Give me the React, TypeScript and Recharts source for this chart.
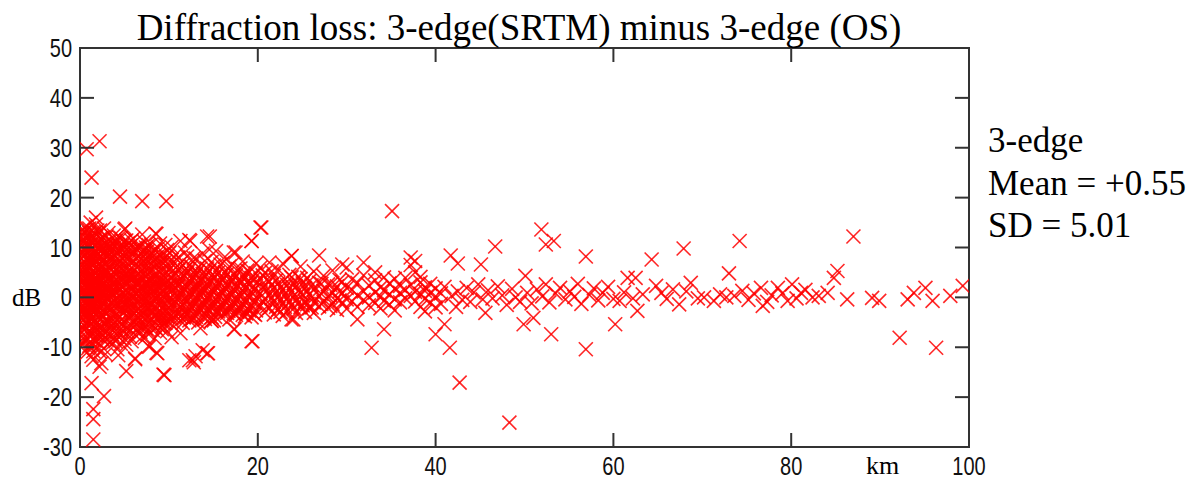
import React from "react";
import { ScatterChart, Scatter, XAxis, YAxis, ReferenceArea } from "recharts";

// Path length (km) paired with the list of loss differences (dB) observed at that distance.
type Column = [number, number[]];

const band0to3: Column[] = [
  [0.3, [13.5, 9.2, 5.1, 1.4, -2.8, -6.3, -9.5, 11.0, 3.2, -4.6]],
  [0.6, [14.2, 10.8, 7.0, 2.6, -1.1, -5.0, -8.4, 12.1, 4.4, -3.0, 0.5]],
  [0.9, [12.6, 8.1, 4.0, 0.2, -3.6, -7.2, -10.2, 6.0, 1.8, -1.5]],
  [1.2, [15.0, 11.4, 6.7, 2.9, -0.8, -4.4, -8.9, 9.6, -2.4, 3.8]],
  [1.5, [13.1, 9.9, 5.5, 1.0, -2.2, -6.0, -10.8, 7.7, -12.5, 0.4]],
  [1.8, [14.6, 10.3, 4.8, 0.9, -3.3, -7.8, 8.2, 2.1, -5.3]],
  [2.1, [12.9, 8.7, 3.5, -0.5, -4.1, -9.1, 6.4, -1.9, 11.2]],
  [2.4, [11.7, 7.3, 2.2, -1.6, -5.7, -13.2, 4.9, 9.5, -8.0]],
  [2.7, [13.8, 9.0, 5.9, 0.7, -2.9, -6.8, -10.3, 3.0]],
  [3.0, [12.2, 7.9, 3.6, -0.2, -4.9, -8.6, 10.4, 1.5, -2.0]],
];

const band0to3b: Column[] = [
  [0.15, [12.0, 7.8, 3.9, -0.4, -4.2, -7.9, 10.1, 5.6, 1.9, -1.9]],
  [0.45, [11.2, 6.3, 2.4, -1.7, -5.6, -9.0, 13.0, 8.6, 0.1, -3.4]],
  [0.75, [13.6, 9.7, 5.3, 1.1, -2.5, -6.1, -11.1, 3.4, -0.9, 7.4]],
  [1.05, [10.5, 7.2, 4.6, -0.3, -4.9, -9.7, 12.9, 1.5, -2.9, 13.8]],
  [1.35, [12.1, 8.2, 3.3, -1.4, -5.2, -7.3, 0.6, 10.7, -9.6]],
  [1.65, [11.6, 6.6, 3.0, -1.0, -4.6, -8.7, 12.9, -2.9, 1.6]],
  [1.95, [13.4, 7.4, 2.5, -2.3, -6.6, 10.0, 0.0, 4.3, -10.1]],
  [2.25, [10.2, 5.6, 1.0, -3.0, -7.0, 13.4, 8.1, -10.9]],
  [2.55, [12.0, 6.1, 1.4, -3.8, -8.5, 3.9, -0.9, 9.7]],
  [2.85, [10.9, 4.7, 0.3, -5.5, 7.0, 2.3, -2.8, -11.4]],
];

const band3to10: Column[] = [
  [3.4, [11.3, 7.6, 4.1, 0.8, -2.6, -6.1, -9.0, 9.4, 2.3, -4.0]],
  [3.8, [12.4, 8.4, 5.2, 1.6, -1.8, -5.4, -8.2, 3.1, -0.6]],
  [4.2, [10.6, 6.8, 3.3, -0.1, -3.7, -7.0, 8.9, 1.9, -10.4]],
  [4.6, [11.9, 7.2, 4.5, 0.6, -2.5, -6.4, 9.7, -9.3]],
  [5.0, [9.8, 6.1, 2.7, -1.2, -4.8, -8.3, 13.6, 0.3]],
  [5.4, [10.9, 7.5, 3.9, 0.1, -3.2, -6.9, 5.3, -1.7]],
  [5.8, [8.8, 5.0, 1.7, -1.9, -5.6, 11.4, 3.4, -8.8]],
  [6.2, [9.9, 6.3, 2.8, -0.7, -4.3, -7.5, 0.9, -12.2]],
  [6.6, [8.3, 4.6, 1.2, -2.3, -5.9, 10.3, 3.0]],
  [7.0, [9.1, 5.6, 2.0, -1.4, -4.7, -7.9, 12.6, -0.3]],
  [7.4, [7.4, 4.0, 0.5, -2.9, -6.2, 10.0, 2.4]],
  [7.8, [8.6, 5.2, 1.9, -1.5, -5.0, -9.9, 3.5]],
  [8.2, [7.0, 3.6, 0.2, -3.1, -6.6, 9.2, 1.3]],
  [8.6, [8.0, 4.8, 1.5, -2.0, -4.4, 12.7, -11.1]],
  [9.0, [6.6, 3.2, -0.4, -3.5, -7.1, 10.8, 1.0]],
  [9.4, [7.8, 4.3, 1.1, -2.4, -5.2, -15.5, 2.7]],
  [9.8, [6.2, 2.9, -0.6, -3.9, 9.5, 0.4, -6.8]],
];

const band3to10b: Column[] = [
  [3.2, [10.1, 6.0, 2.0, -1.5, -4.8, -7.6, 8.4, 12.9]],
  [3.6, [9.9, 6.2, 2.8, -0.9, -4.3, -7.4, 11.0, 0.6]],
  [4.0, [11.3, 8.1, 4.6, 1.0, -2.0, -5.7, -8.8, 2.6]],
  [4.4, [9.2, 5.3, 1.7, -1.6, -4.9, -8.0, 12.0]],
  [4.8, [10.4, 5.4, 1.9, -2.0, -5.4, 7.7, 3.7, -0.3]],
  [5.2, [8.6, 4.8, 1.2, -2.4, -6.1, 11.4, -9.5]],
  [5.6, [9.6, 6.3, 2.4, -0.9, -4.2, -7.9, 4.1]],
  [6.0, [11.8, 7.4, 3.9, 0.2, -3.1, -6.0, 1.4]],
  [6.4, [7.8, 4.4, 0.6, -2.7, -5.2, 9.6]],
  [6.8, [10.0, 6.6, 3.1, -0.3, -3.6, -6.9]],
  [7.2, [8.2, 4.7, 1.3, -2.1, -5.5, 11.2]],
  [7.6, [9.3, 5.9, 2.6, -0.8, -3.9, -7.2]],
  [8.0, [7.8, 4.0, 0.8, -2.6, -5.8, 10.6]],
  [8.4, [9.5, 6.1, 2.7, -0.7, -3.8, -8.2]],
  [8.8, [7.1, 3.8, 0.4, -2.9, -5.7, 9.9]],
  [9.2, [8.6, 5.4, 2.1, -1.2, -4.3, -6.4]],
  [9.6, [7.2, 3.9, 0.7, -2.8, -5.1, 10.5]],
];

// Extra links filling the dense core of short paths.
const coreShort: Column[] = [
  [0.22, [8.8, 4.7, 0.8, -3.1, -6.9, 12.7, 2.9, 6.8]],
  [0.52, [9.9, 5.6, 1.6, -2.2, -6.4, 3.8, -0.6, 11.6]],
  [0.82, [10.4, 6.5, 2.6, -1.3, -5.1, -8.3, 8.9, 0.4]],
  [1.12, [8.1, 4.2, 0.2, -3.6, -7.1, 5.9, 11.8, 2.3]],
  [1.42, [10.8, 6.9, 2.1, -1.9, -4.0, 4.3, -8.4, 8.8]],
  [1.72, [9.0, 5.9, 1.3, -2.1, -6.2, 7.1, -0.4, 3.7]],
  [2.02, [11.0, 5.3, 1.1, -2.8, -5.8, 8.9, 3.0, -7.7]],
  [2.32, [9.3, 6.2, 3.0, -0.4, -4.3, 0.9, -6.3, 11.9]],
  [2.62, [10.6, 7.6, 2.9, -1.4, -5.2, 4.8, -7.6]],
  [2.92, [8.7, 5.2, 1.8, -3.3, -6.7, 9.4, -0.8]],
  [3.3, [8.7, 5.0, 1.4, -2.0, -5.3, 3.6]],
  [3.7, [10.5, 7.0, 3.8, 0.1, -3.0, -6.6]],
  [4.1, [9.2, 5.7, 2.2, -1.2, -4.5, 7.4]],
  [4.5, [10.3, 6.1, 2.9, -0.6, -3.9, -7.1]],
  [4.9, [8.4, 4.4, 0.9, -3.0, -6.7, 11.2]],
  [5.3, [9.6, 6.2, 2.8, -0.8, -4.1, 7.9]],
  [5.7, [7.6, 3.9, 0.4, -3.0, -6.6, 10.4]],
  [6.1, [8.9, 5.4, 2.0, -1.7, -5.0, 4.0]],
  [6.5, [10.0, 6.3, 3.1, -0.5, -4.0, -7.0]],
  [6.9, [7.8, 4.3, 0.9, -2.6, -5.7, 1.9]],
  [7.3, [9.4, 5.9, 2.9, -0.2, -3.5, 6.8]],
  [7.7, [7.2, 3.7, 0.3, -2.2, -6.6, 10.5]],
  [8.1, [8.8, 5.4, 2.0, -1.4, -4.4]],
  [8.5, [6.9, 3.6, 0.0, -3.3, -6.1]],
  [8.9, [8.5, 5.2, 2.1, -1.1, -4.4]],
  [9.3, [6.8, 3.2, 0.1, -3.2, -5.8]],
  [9.7, [8.1, 4.9, 1.8, -1.5, -4.6]],
];

const band10to20: Column[] = [
  [10.3, [7.5, 4.1, 1.4, -1.3, -4.2, 10.1, 2.6, -8.0]],
  [10.8, [6.0, 3.0, 0.3, -2.6, -5.5, 8.6]],
  [11.3, [6.9, 3.8, 1.0, -1.8, -3.9, 11.3, -7.2]],
  [11.8, [5.5, 2.5, -0.2, -2.9, 9.0, 1.6]],
  [12.3, [6.4, 3.4, 0.8, -1.6, -4.6, 11.5, -12.6]],
  [12.8, [5.0, 2.2, -0.5, -3.3, 7.9, -13.0]],
  [13.3, [6.1, 3.1, 0.6, -2.1, -5.0, 1.9]],
  [13.8, [4.7, 1.8, -0.9, -3.6, 8.8, -10.6]],
  [14.3, [5.8, 2.8, 0.1, -2.4, 12.2, -11.2]],
  [14.8, [4.3, 1.5, -1.1, -4.0, 7.1, -4.7]],
  [15.3, [5.3, 2.4, -0.3, -2.7, 9.3]],
  [15.8, [3.9, 1.2, -1.4, -3.8, 6.6]],
  [16.3, [5.0, 2.0, -0.6, -3.0, 8.1]],
  [16.8, [3.6, 0.9, -1.7, -4.4, 6.2]],
  [17.3, [4.6, 1.7, -0.8, -3.2, 9.0, -6.4]],
  [17.8, [3.3, 0.6, -2.0, 5.7]],
  [18.3, [4.2, 1.4, -1.2, -3.5, 7.2]],
  [18.8, [3.0, 0.3, -2.3, 5.4]],
  [19.3, [3.9, 1.1, -1.5, -4.0, 11.3, -8.8]],
  [19.8, [2.7, 0.0, -2.6, 6.8, 4.8]],
];

const band10to20b: Column[] = [
  [10.05, [5.6, 2.2, -0.5, -3.1, 8.9]],
  [10.55, [7.1, 4.3, 1.7, -1.1, -4.0]],
  [11.05, [5.4, 2.2, -0.7, -3.4, 8.0]],
  [11.55, [6.5, 4.1, 1.2, -1.5, -5.1]],
  [12.05, [4.8, 2.0, -0.8, -3.7, 8.2]],
  [12.55, [6.2, 3.7, 0.9, -1.9, -4.4]],
  [13.05, [4.4, 1.6, -1.2, -3.9, 7.8]],
  [13.55, [5.8, 3.3, 0.5, -2.3, -6.2]],
  [14.05, [4.1, 1.3, -1.6, -4.3, 7.3]],
  [14.55, [5.3, 3.0, 0.2, -2.5, 9.6]],
  [15.05, [3.8, 1.0, -1.8, -4.6, 6.4]],
  [15.55, [5.0, 2.6, 0.0, -2.8]],
  [16.05, [3.5, 0.8, -2.0, 6.9]],
  [16.55, [4.7, 2.3, -0.4, -3.1]],
  [17.05, [3.2, 0.5, -2.2, 6.5]],
  [17.55, [4.4, 2.0, -0.6, -3.5]],
  [18.05, [2.9, 0.2, -2.4, 5.8]],
  [18.55, [4.2, 1.8, -0.9, -3.8]],
  [19.05, [2.6, 0.0, -2.7, 5.1]],
  [19.55, [3.7, 1.5, -1.0, -3.3]],
];

const coreMid: Column[] = [
  [10.2, [6.0, 2.9, 0.0, -2.4, -5.2]],
  [10.7, [4.9, 1.9, -0.9, -3.6]],
  [11.2, [5.8, 2.8, 0.1, -2.8]],
  [11.7, [4.4, 1.6, -1.2, -4.0]],
  [12.2, [5.3, 2.6, -0.3, -3.0]],
  [12.7, [4.0, 1.3, -1.6, -4.2]],
  [13.2, [5.0, 2.3, -0.4, -3.4]],
  [13.7, [3.6, 0.9, -1.8]],
  [14.2, [4.6, 1.9, -0.8, -3.6]],
  [14.7, [3.2, 0.5, -2.0]],
  [15.2, [4.1, 1.5, -1.2, -3.9]],
  [15.7, [2.9, 0.3, -2.3]],
  [16.2, [3.9, 1.3, -1.4]],
  [16.7, [2.5, -0.1, -2.7]],
  [17.2, [3.6, 0.9, -1.6]],
  [17.7, [2.3, -0.4, -2.9]],
  [18.2, [3.2, 0.6, -1.8]],
  [18.7, [2.0, -0.6, -3.2]],
  [19.2, [2.9, 0.3, -2.0]],
  [19.7, [1.7, -0.9, -3.5]],
];

const band20to40: Column[] = [
  [20.3, [3.6, 0.8, -1.6, 14.0, 6.0]],
  [20.8, [2.3, -0.4, -3.0, 4.9]],
  [21.3, [3.2, 0.5, -2.1, 7.0]],
  [21.8, [1.9, -0.9, -3.4, 4.3]],
  [22.3, [2.8, 0.2, -2.4, 5.6]],
  [22.8, [1.5, -1.2, -3.7, 6.8]],
  [23.3, [2.5, -0.2, -2.8]],
  [23.8, [1.2, -1.5, 8.3, -4.4, 4.0]],
  [24.3, [2.2, -0.6, -3.1]],
  [24.8, [0.9, -1.9, 3.7, 6.2]],
  [25.3, [1.9, -0.8, -2.9]],
  [25.8, [0.6, -2.2, 3.3]],
  [26.3, [1.6, -1.0, 5.2, -3.1]],
  [26.9, [0.3, -1.8, 8.4, 2.9]],
  [27.4, [1.3, -0.9, 4.3]],
  [27.9, [0.1, -2.1, 2.6]],
  [28.4, [1.0, -1.3, 5.4]],
  [28.9, [-0.2, 2.2, -2.5]],
  [29.5, [0.8, -1.0, 6.6, 3.1]],
  [30.0, [-0.4, 1.9, -2.3, 6.0]],
  [30.6, [1.5, -0.8, 3.6]],
  [31.2, [0.4, -1.9, -4.4, 2.9]],
  [31.9, [1.2, -0.5, 7.0, 4.4]],
  [32.5, [0.0, 2.4, -1.6]],
  [32.8, [-10.1]],
  [33.2, [1.0, -1.1, 3.4, 5.0]],
  [33.8, [0.2, 2.0, -2.2]],
  [34.2, [-6.4, 1.4, -0.7, 4.0]],
  [34.8, [0.6, 2.8, -1.4]],
  [35.1, [17.3]],
  [35.4, [1.7, -0.4, 3.7, -2.6]],
  [36.0, [0.9, 2.3, -1.0]],
  [36.6, [1.5, -0.2, 3.9]],
  [37.2, [6.5, 2.5, 0.3, 8.0]],
  [37.7, [5.0, 1.1, -0.8, 7.3]],
  [38.3, [3.0, 0.7, -1.9, 4.1]],
  [38.8, [2.0, -0.3, 1.3, -2.8]],
  [39.4, [0.9, -1.1, 2.7]],
  [40.0, [0.2, -7.4, 1.8, -2.0]],
];

const band20to30b: Column[] = [
  [20.55, [2.1, -0.7, 4.4]],
  [21.05, [1.4, -1.8, 3.6]],
  [21.55, [2.5, -0.2, 5.2]],
  [22.05, [1.0, -1.9, 3.4]],
  [22.55, [2.0, -0.6, -2.9]],
  [23.05, [0.6, 3.6, -1.9]],
  [23.55, [1.7, -0.9, 4.5]],
  [24.05, [0.3, 2.9, -2.2]],
  [24.55, [1.3, -1.1, 4.1]],
  [25.05, [0.5, 2.8, -1.6]],
  [25.55, [1.1, -1.4, 3.9]],
  [26.05, [0.0, 2.4, -2.0]],
  [27.15, [0.7, -1.3, 2.7]],
  [28.15, [0.4, 2.5, -1.7]],
  [29.2, [1.2, -0.6, 3.5]],
];

// Sparse long paths, one [km, dB] pair per link.
const band40to60: [number, number][] = [
  [40.6, 0.8], [40.6, -1.3], [41.0, -5.4], [41.0, 2.1], [41.6, -10.1], [41.7, 8.4],
  [41.8, 0.3], [42.3, -1.9], [42.5, 6.8], [42.5, 1.2], [42.7, -17.1], [43.0, -0.5],
  [43.5, 1.9], [43.9, -0.9], [44.3, 1.0], [44.8, 2.6], [45.1, 6.6], [45.3, -0.4],
  [45.6, -3.1], [45.9, 1.4], [46.4, -0.2], [46.7, 10.2], [47.0, 2.2], [47.5, 0.4],
  [48.0, -1.5], [48.3, -25.1], [48.6, 1.7], [49.0, 0.0], [49.5, -0.9], [49.9, -5.4],
  [50.1, 4.3], [50.3, 0.9], [50.8, -1.2], [51.0, -4.1], [51.4, 1.6], [51.9, 13.6],
  [52.0, 0.2], [52.4, 10.6], [52.4, 2.6], [52.8, -1.0], [53.0, -7.4], [53.3, 11.3],
  [53.5, 0.8], [54.0, 1.9], [54.6, -0.4], [55.1, 1.2], [55.6, 0.1], [56.0, 2.7],
  [56.4, -1.3], [56.9, 8.2], [56.9, -10.4], [57.3, 0.5], [57.8, 1.8], [58.3, -0.6],
  [58.8, 0.9], [59.4, 2.1], [60.0, -0.3], [60.2, -5.4],
];

const band60to100: [number, number][] = [
  [60.7, -0.7], [61.2, 1.0], [61.6, 3.9], [62.2, -0.2], [62.5, 3.9], [62.7, -2.7],
  [63.3, 0.6], [64.3, 7.6], [64.8, 2.3], [65.4, 0.9], [66.0, -0.3], [66.7, 1.6],
  [67.4, -1.4], [67.9, 9.8], [68.2, 1.2], [68.7, 2.9], [69.5, -0.2], [70.2, 0.0],
  [71.3, -0.7], [72.0, 0.6], [72.7, 0.0], [73.0, 4.8], [73.6, 0.3], [74.2, 11.3],
  [74.5, 1.3], [75.2, -0.5], [75.8, 0.8], [76.6, 1.9], [76.8, -1.7], [77.3, -0.9],
  [77.8, 0.4], [78.5, 1.9], [79.0, 0.8], [79.6, -0.7], [80.1, 2.6], [80.6, -0.2],
  [81.1, 0.9], [81.6, 1.5], [82.4, 0.0], [83.1, 0.3], [84.1, 0.9], [84.8, 3.9],
  [85.2, 5.3], [86.3, -0.4], [87.0, 12.2], [89.1, -0.1], [89.9, -0.7], [92.2, -8.1],
  [93.1, -0.4], [93.8, 0.9], [95.1, 1.9], [95.9, -0.7], [96.3, -10.1], [97.9, 0.3],
  [99.3, 2.3],
];

// Isolated large differences on short paths.
const shortPathOutliers: [number, number][] = [
  [0.75, 29.7], [2.2, 31.3], [1.3, 24.0], [4.5, 20.2], [7.0, 19.3], [9.7, 19.3],
  [1.8, 16.0], [5.1, 13.8], [8.5, 12.8], [12.4, 11.3], [14.6, 12.2], [20.4, 14.0],
  [19.3, 11.3], [17.5, 9.0], [23.8, 8.3],
  [1.5, -28.5], [1.5, -24.4], [1.5, -22.4], [1.3, -17.2], [2.7, -19.8], [2.2, -13.9],
  [1.3, -11.8], [5.2, -14.8], [6.2, -12.4], [4.3, -11.6], [9.5, -15.6], [8.7, -11.2],
  [7.7, -9.8], [12.7, -12.6], [14.4, -11.2], [13.0, -11.8], [19.4, -8.8], [17.4, -6.4],
  [24.0, -4.4], [14.8, -4.7], [3.7, -9.1], [7.3, -8.1],
];

const xTicks = [0, 20, 40, 60, 80, 100];
const yTicks = [-30, -20, -10, 0, 10, 20, 30, 40, 50];

const titleText = "Diffraction loss: 3-edge(SRTM) minus 3-edge (OS)";
const statsLines = ["3-edge", "Mean = +0.55", "SD = 5.01"];

const fromColumns = (cols: Column[]) =>
  cols.flatMap(([km, values]) => values.map((dB) => ({ km, dB })));
const fromPairs = (pairs: [number, number][]) => pairs.map(([km, dB]) => ({ km, dB }));

const points = [
  ...fromColumns(band0to3),
  ...fromColumns(band0to3b),
  ...fromColumns(band3to10),
  ...fromColumns(band3to10b),
  ...fromColumns(coreShort),
  ...fromColumns(band10to20),
  ...fromColumns(band10to20b),
  ...fromColumns(coreMid),
  ...fromColumns(band20to40),
  ...fromColumns(band20to30b),
  ...fromPairs(band40to60),
  ...fromPairs(band60to100),
  ...fromPairs(shortPathOutliers),
];

// Layout
const W = 1190;
const H = 474;
const MARGIN = { top: 40, right: 229, bottom: 0, left: 12 };
const Y_AXIS_W = 60;
const X_AXIS_H = 35;
const PLOT_W = W - MARGIN.left - Y_AXIS_W - MARGIN.right;
const PLOT_H = H - MARGIN.top - X_AXIS_H;
const TICK_LEN = 14;
const FRAME = "#333333";
const RED = "#ff0000";
const TICK_FONT = "'Liberation Sans', Arial, sans-serif";
const SERIF = "'Liberation Serif', 'Times New Roman', serif";

const Cross = (props: any) => {
  const { cx, cy } = props;
  if (cx == null || cy == null) return null;
  const r = 7;
  return (
    <g stroke={RED} strokeWidth={1.6} strokeOpacity={0.85}>
      <line x1={cx - r} y1={cy - r} x2={cx + r} y2={cy + r} />
      <line x1={cx - r} y1={cy + r} x2={cx + r} y2={cy - r} />
    </g>
  );
};

// Condensed tick label: regular sans squeezed horizontally.
const TickText = ({ x, y, anchor, children }: any) => (
  <text
    transform={`translate(${x},${y}) scale(0.8,1)`}
    textAnchor={anchor}
    fontFamily={TICK_FONT}
    fontSize={25}
    fill="#111"
  >
    {children}
  </text>
);

const YTick = (props: any) => {
  const { x, y, payload } = props;
  const v = payload.value;
  const inner = v !== 50 && v !== -30;
  return (
    <g>
      <TickText x={x - 8} y={y + 9} anchor="end">
        {v}
      </TickText>
      {inner && (
        <g stroke={FRAME} strokeWidth={2}>
          <line x1={x} y1={y} x2={x + TICK_LEN} y2={y} />
          <line x1={x + PLOT_W - TICK_LEN} y1={y} x2={x + PLOT_W} y2={y} />
        </g>
      )}
    </g>
  );
};

const XTick = (props: any) => {
  const { x, y, payload } = props;
  const v = payload.value;
  const inner = v !== 0 && v !== 100;
  return (
    <g>
      <TickText x={x} y={y + 28} anchor="middle">
        {v}
      </TickText>
      {inner && (
        <g stroke={FRAME} strokeWidth={2}>
          <line x1={x} y1={y} x2={x} y2={y - TICK_LEN} />
          <line x1={x} y1={y - PLOT_H} x2={x} y2={y - PLOT_H + TICK_LEN} />
        </g>
      )}
    </g>
  );
};

export default function App() {
  return (
    <div style={{ position: "relative", width: W, height: H, background: "#fff" }}>
      <ScatterChart width={W} height={H} margin={MARGIN}>
        <XAxis
          type="number"
          dataKey="km"
          domain={[0, 100]}
          ticks={xTicks}
          allowDataOverflow
          axisLine={false}
          tickLine={false}
          tickSize={0}
          tickMargin={0}
          height={X_AXIS_H}
          interval={0}
          tick={<XTick />}
        />
        <YAxis
          type="number"
          dataKey="dB"
          domain={[-30, 50]}
          ticks={yTicks}
          allowDataOverflow
          axisLine={false}
          tickLine={false}
          tickSize={0}
          tickMargin={0}
          width={Y_AXIS_W}
          interval={0}
          tick={<YTick />}
        />
        <Scatter data={points} shape={<Cross />} isAnimationActive={false} />
        <ReferenceArea
          x1={0}
          x2={100}
          y1={-30}
          y2={50}
          fill="none"
          fillOpacity={0}
          stroke={FRAME}
          strokeWidth={2}
          strokeOpacity={1}
        />
      </ScatterChart>
      <svg
        width={W}
        height={H}
        style={{ position: "absolute", left: 0, top: 0, pointerEvents: "none" }}
      >
        <text x={511} y={32} textAnchor="middle" fontFamily={SERIF} fontSize={37} fill="#000">
          {titleText}
        </text>
        {statsLines.map((line, i) => (
          <text key={line} x={980} y={144 + i * 42.5} fontFamily={SERIF} fontSize={35} fill="#000">
            {line}
          </text>
        ))}
        <text x={4} y={298} fontFamily={SERIF} fontSize={25} fill="#000">
          dB
        </text>
        <text x={858} y={466} fontFamily={SERIF} fontSize={26} fill="#000">
          km
        </text>
      </svg>
    </div>
  );
}
